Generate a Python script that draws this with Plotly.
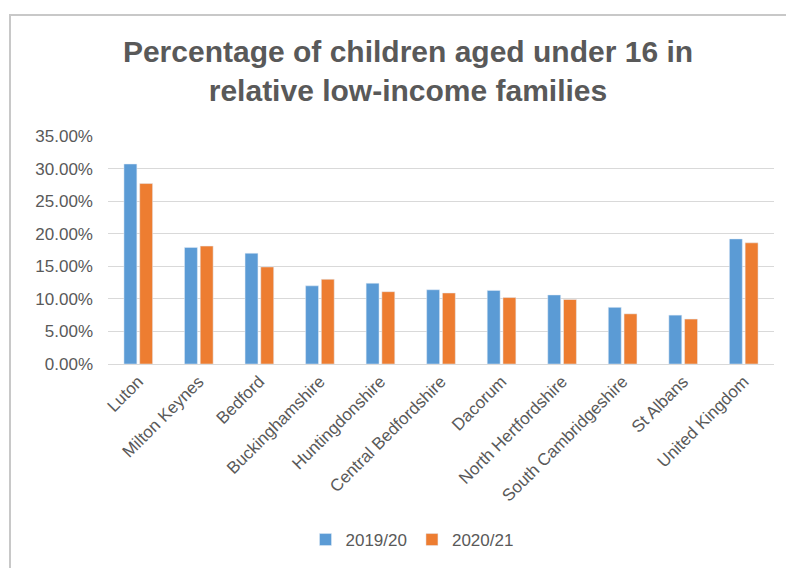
import plotly.graph_objects as go

categories = ["Luton", "Milton Keynes", "Bedford", "Buckinghamshire", "Huntingdonshire",
              "Central Bedfordshire", "Dacorum", "North Hertfordshire",
              "South Cambridgeshire", "St Albans", "United Kingdom"]
values_2019_20 = [30.7, 17.9, 17.0, 12.0, 12.4, 11.4, 11.3, 10.6, 8.7, 7.5, 19.2]
values_2020_21 = [27.7, 18.1, 14.9, 13.0, 11.1, 10.9, 10.2, 9.9, 7.7, 6.9, 18.6]
series_names = ["2019/20", "2020/21"]
y_ticks = [0, 5, 10, 15, 20, 25, 30, 35]

W, H = 794, 568
OFF = 8  # page body margin offset
L, R, T, B = 108 - OFF, 20 + OFF, 136 - OFF, 204 + OFF
pw, ph = W - L - R, H - T - B

def px_x(x):
    return (x - OFF - L) / pw

def px_y(y):
    return (H - B - (y - OFF)) / ph

fig = go.Figure()
fig.add_trace(go.Bar(x=categories, y=[v / 100 for v in values_2019_20], name=series_names[0],
                     marker_color="#5B9BD5"))
fig.add_trace(go.Bar(x=categories, y=[v / 100 for v in values_2020_21], name=series_names[1],
                     marker_color="#ED7D31"))

font_fam = "Liberation Sans, Arial, sans-serif"
fig.update_layout(
    width=W, height=H,
    margin=dict(l=L, r=R, t=T, b=B),
    paper_bgcolor="white", plot_bgcolor="white",
    barmode="group", bargap=0.48, bargroupgap=0.18,
    font=dict(family=font_fam, color="#595959", size=17),
    title=dict(text="<b>Percentage of children aged under 16 in<br>relative low-income families</b>",
               x=(408 - OFF) / W, xanchor="center", y=1 - (62 - OFF) / H, yanchor="top",
               font=dict(size=30, color="#595959", family=font_fam)),
    xaxis=dict(tickangle=-45, showgrid=False, showline=True, linecolor="#d9d9d9", linewidth=1,
               ticks="", tickfont=dict(size=17, color="#595959")),
    yaxis=dict(range=[0, 0.35], tickvals=[t / 100 for t in y_ticks], tickformat=".2%",
               showgrid=True, gridcolor="#d9d9d9", gridwidth=1, zeroline=False,
               ticks="", tickfont=dict(size=17, color="#595959"), ticklabelstandoff=14),
    legend=dict(orientation="h", x=px_x(412), xanchor="center", y=px_y(540), yanchor="middle",
                font=dict(size=17, color="#595959"), traceorder="normal", itemwidth=30),
    showlegend=True,
    shapes=[dict(type="rect", xref="paper", yref="paper",
                 x0=px_x(10), x1=px_x(830), y0=px_y(620), y1=px_y(15),
                 line=dict(color="#c8c8c8", width=2), layer="below")],
)

fig.write_html("out.html")
